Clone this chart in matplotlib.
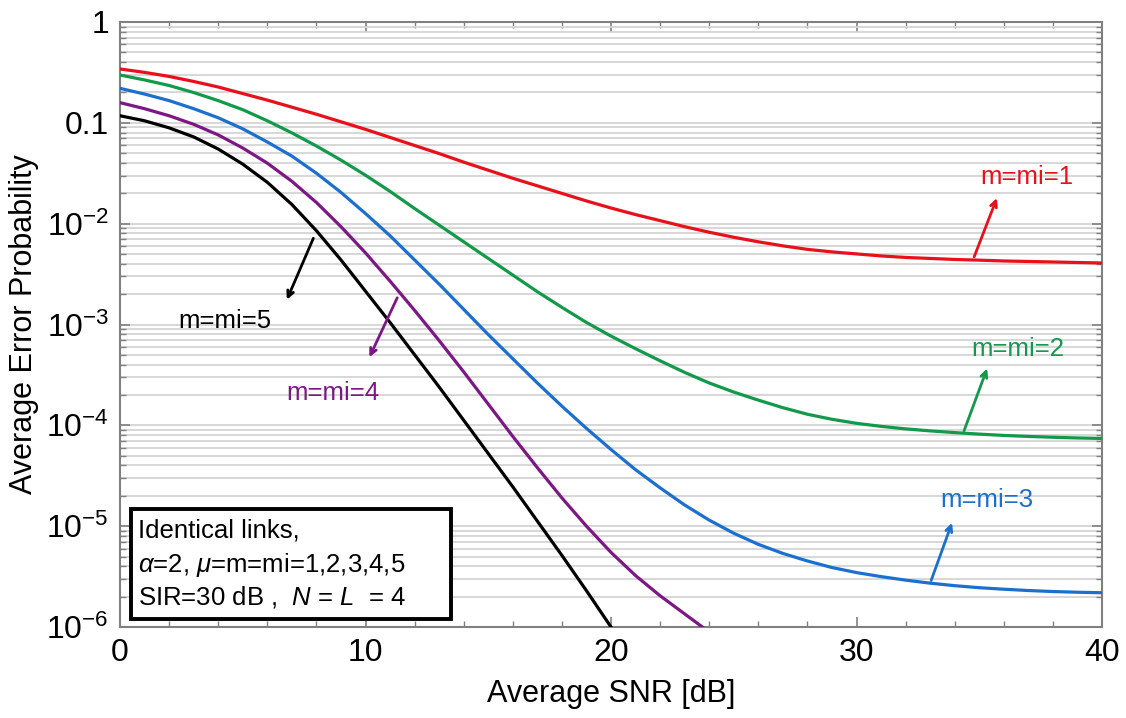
import matplotlib
matplotlib.use("Agg")
import matplotlib.pyplot as plt
import numpy as np
from matplotlib.patches import Rectangle
from matplotlib.ticker import FixedLocator, LogLocator, NullFormatter

plt.rcParams['font.family'] = ['Liberation Sans', 'DejaVu Sans']
plt.rcParams['mathtext.fontset'] = 'custom'
plt.rcParams['mathtext.rm'] = 'Liberation Sans'
plt.rcParams['mathtext.it'] = 'Liberation Sans:italic'

# Average SNR [dB]
snr = list(range(0, 41))

# log10 of average error probability
red_log = [-0.466, -0.50, -0.54, -0.59, -0.645, -0.71, -0.775, -0.845, -0.915, -0.99,
           -1.065, -1.145, -1.225, -1.305, -1.39, -1.47, -1.55, -1.625, -1.70, -1.775,
           -1.845, -1.91, -1.97, -2.03, -2.085, -2.135, -2.18, -2.22, -2.255, -2.28,
           -2.30, -2.32, -2.335, -2.345, -2.355, -2.362, -2.37, -2.375, -2.38, -2.385, -2.39]
green_log = [-0.526, -0.575, -0.63, -0.70, -0.78, -0.87, -0.98, -1.10, -1.23, -1.37,
             -1.52, -1.68, -1.85, -2.015, -2.18, -2.345, -2.51, -2.675, -2.83, -2.98,
             -3.115, -3.24, -3.36, -3.475, -3.58, -3.67, -3.75, -3.825, -3.89, -3.94,
             -3.98, -4.01, -4.035, -4.055, -4.072, -4.087, -4.10, -4.11, -4.118, -4.125, -4.13]
blue_log = [-0.658, -0.715, -0.78, -0.86, -0.95, -1.06, -1.19, -1.33, -1.50, -1.69,
            -1.90, -2.12, -2.36, -2.60, -2.85, -3.10, -3.34, -3.58, -3.81, -4.03,
            -4.24, -4.44, -4.62, -4.79, -4.94, -5.07, -5.18, -5.27, -5.345, -5.41,
            -5.46, -5.50, -5.535, -5.565, -5.59, -5.61, -5.625, -5.638, -5.648, -5.655, -5.66]
purple_log = [-0.80, -0.86, -0.93, -1.015, -1.12, -1.25, -1.40, -1.58, -1.79, -2.03,
              -2.29, -2.57, -2.86, -3.16, -3.47, -3.79, -4.11, -4.42, -4.72, -5.00,
              -5.26, -5.49, -5.69, -5.87, -6.05]
black_log = [-0.93, -0.98, -1.05, -1.14, -1.26, -1.41, -1.59, -1.81, -2.07, -2.36,
             -2.67, -2.98, -3.30, -3.62, -3.95, -4.28, -4.61, -4.95, -5.29, -5.64, -6.0]

curves = [
    (red_log, '#e8101a'),
    (green_log, '#12994a'),
    (blue_log, '#1a6fcf'),
    (purple_log, '#7d1785'),
    (black_log, '#000000'),
]

labels = ['m=mi=1', 'm=mi=2', 'm=mi=3', 'm=mi=4', 'm=mi=5']
# (arrow start x, log y), (arrow tip x, log y), (label x, log y)
arrow_start = [(34.75, -2.355), (34.34, -4.08), (33.0, -5.565), (11.34, -2.71), (7.92, -2.12)]
arrow_tip = [(35.76, -1.72), (35.36, -3.41), (33.93, -4.94), (10.11, -3.35), (6.75, -2.78)]
label_pos = [(36.95, -1.54), (36.58, -3.24), (35.32, -4.74), (8.68, -3.68), (4.28, -2.97)]

fig = plt.figure(figsize=(11.26, 7.18), dpi=100)
ax = fig.add_axes([0.1066, 0.1267, 0.8721, 0.8427])

for (vals, col) in curves:
    x = snr[:len(vals)]
    ax.semilogy(x, 10 ** np.array(vals), color=col, lw=2.3, zorder=3,
                solid_joinstyle='round')

for i in range(5):
    col = curves[i][1]
    s, t, l = arrow_start[i], arrow_tip[i], label_pos[i]
    ax.annotate('', xy=(t[0], 10 ** t[1]), xytext=(s[0], 10 ** s[1]),
                arrowprops=dict(arrowstyle='->,head_length=0.45,head_width=0.22',
                                color=col, lw=2.0), zorder=4)
    ax.text(l[0], 10 ** l[1], labels[i], color=col, fontsize=18.5,
            ha='center', va='center', zorder=4)

ax.set_xlim(0, 40)
ax.set_ylim(1e-6, 1)

ax.xaxis.set_major_locator(FixedLocator([0, 10, 20, 30, 40]))
ax.xaxis.set_minor_locator(FixedLocator(np.arange(0, 41, 2)))
ax.yaxis.set_major_locator(FixedLocator([1e-6, 1e-5, 1e-4, 1e-3, 1e-2, 1e-1, 1]))
ax.yaxis.set_minor_locator(LogLocator(base=10, subs=np.arange(2, 10), numticks=20))
ax.yaxis.set_minor_formatter(NullFormatter())
ax.set_yticklabels(['$10^{-6}$', '$10^{-5}$', '$10^{-4}$', '$10^{-3}$', '$10^{-2}$', '0.1', '1'])
ax.set_xticklabels(['0', '10', '20', '30', '40'])

ax.tick_params(which='both', direction='in', top=True, right=True, colors='#808080',
               labelcolor='black', labelsize=23)
ax.tick_params(which='major', length=7, width=1.2, pad=8)
ax.tick_params(which='minor', length=4, width=1.0)

ax.grid(True, which='both', axis='y', color='#d4d4d4', lw=1.3, zorder=0)
for sp in ax.spines.values():
    sp.set_color('#808080')
    sp.set_linewidth(1.5)

ax.set_xlabel('Average SNR [dB]', fontsize=22, labelpad=8)
ax.set_ylabel('Average Error Probability', fontsize=22, labelpad=5)

ax.add_patch(Rectangle((0.0109, 0.0132), 0.326, 0.182, transform=ax.transAxes,
                       facecolor='white', edgecolor='black', lw=2.8, zorder=5))
box_lines = ['Identical links,',
             r'$\alpha$=2, $\mu$=m=mi=1,2,3,4,5',
             r'SIR=30 dB ,  $N$ = $L$  = 4']
box_y = [0.160, 0.1025, 0.050]
for txt, yy in zip(box_lines, box_y):
    ax.text(0.0183, yy, txt, transform=ax.transAxes, fontsize=18.5,
            ha='left', va='center', zorder=6)

fig.savefig('out.png', dpi=100)
